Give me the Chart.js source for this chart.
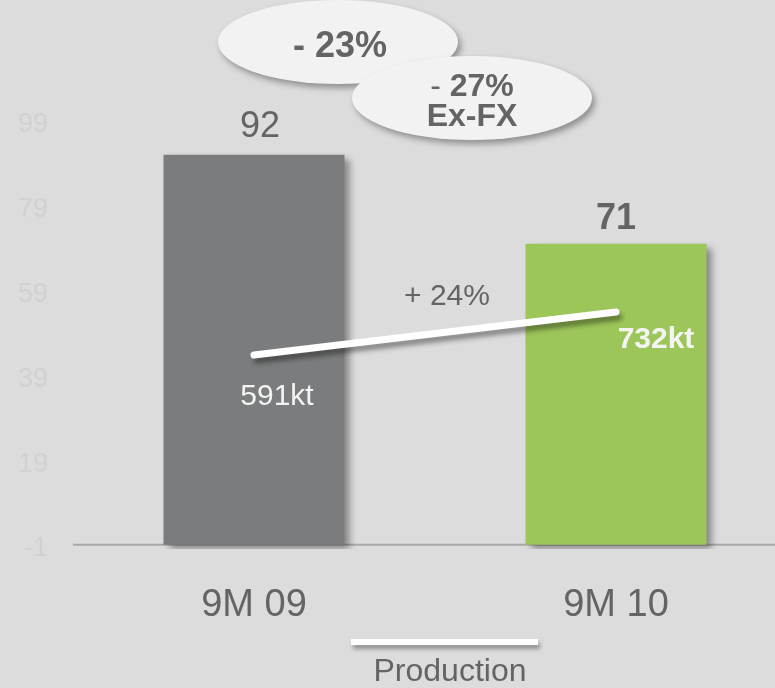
<!DOCTYPE html>
<html>
<head>
<meta charset="utf-8">
<script src="https://cdn.jsdelivr.net/npm/chart.js@4.4.1/dist/chart.umd.min.js"></script>
<style>
  html, body { margin: 0; padding: 0; overflow: hidden; background: #dcdcdc; }
  #wrap { width: 797px; height: 688px; }
</style>
</head>
<body>
<div id="wrap"><canvas id="chart" width="797" height="688"></canvas></div>
<script>
// period labels and values
const categories = ['9M 09', '9M 10'];
const barValues = [92, 71];
const productionKt = [591, 732];
const yTicks = [-1, 19, 39, 59, 79, 99];
const barColors = ['#7b7c7d', '#9dc65a'];

// callout texts
const changeTotal = '- 23%';
const changeExFx = ['27%', 'Ex-FX'];
const changeProduction = '+ 24%';
const lineLabel = 'Production';

const FONT = '"Liberation Sans", Arial, sans-serif';
const TEXT = '#646464';

function ellipse(ctx, cx, cy, rx, ry) {
  ctx.save();
  ctx.shadowColor = 'rgba(0,0,0,0.35)';
  ctx.shadowBlur = 6;
  ctx.shadowOffsetX = 3;
  ctx.shadowOffsetY = 4;
  ctx.fillStyle = '#f2f2f2';
  ctx.beginPath();
  ctx.ellipse(cx, cy, rx, ry, 0, 0, Math.PI * 2);
  ctx.fill();
  ctx.restore();
}

const decor = {
  id: 'decor',
  beforeDatasetsDraw(chart) {
    const { ctx, chartArea, scales } = chart;
    const y0 = scales.y.getPixelForValue(0);
    ctx.save();
    ctx.strokeStyle = '#a9a9a9';
    ctx.lineWidth = 2;
    ctx.beginPath();
    ctx.moveTo(chartArea.left, y0);
    ctx.lineTo(chartArea.right, y0);
    ctx.stroke();
    ctx.restore();
  },
  beforeDatasetDraw(chart, args) {
    const ctx = chart.ctx;
    ctx.save();
    if (args.meta.type === 'bar') {
      ctx.shadowColor = 'rgba(0,0,0,0.4)';
      ctx.shadowBlur = 7;
      ctx.shadowOffsetX = 5;
      ctx.shadowOffsetY = 4;
    } else {
      ctx.shadowColor = 'rgba(0,0,0,0.4)';
      ctx.shadowBlur = 5;
      ctx.shadowOffsetX = 3;
      ctx.shadowOffsetY = 5;
    }
  },
  afterDatasetDraw(chart) {
    chart.ctx.restore();
  },
  afterDraw(chart) {
    const ctx = chart.ctx;
    const bars = chart.getDatasetMeta(0).data;
    const pts = chart.getDatasetMeta(1).data;
    ctx.save();
    ctx.textAlign = 'center';
    ctx.textBaseline = 'middle';

    // values above bars
    ctx.fillStyle = TEXT;
    ctx.font = '36px ' + FONT;
    ctx.fillText(String(barValues[0]), bars[0].x + 6, bars[0].y - 28);
    ctx.font = 'bold 36px ' + FONT;
    ctx.fillText(String(barValues[1]), bars[1].x, bars[1].y - 25);

    // production labels
    ctx.fillStyle = '#f4f4f4';
    ctx.font = '30px ' + FONT;
    ctx.fillText(productionKt[0] + 'kt', pts[0].x + 23, pts[0].y + 42);
    ctx.font = 'bold 30px ' + FONT;
    ctx.fillText(productionKt[1] + 'kt', pts[1].x + 40, pts[1].y + 28);

    // growth of production
    ctx.fillStyle = TEXT;
    ctx.font = '30px ' + FONT;
    ctx.fillText(changeProduction, (pts[0].x + pts[1].x) / 2 + 12, 297);

    // callouts
    ellipse(ctx, 338, 42, 120, 42);
    ctx.fillStyle = TEXT;
    ctx.font = 'bold 36px ' + FONT;
    ctx.fillText(changeTotal, 340, 47);

    ellipse(ctx, 472, 98, 120, 42);
    ctx.fillStyle = TEXT;
    ctx.font = 'bold 32px ' + FONT;
    const w1 = ctx.measureText(changeExFx[0]).width;
    ctx.font = '32px ' + FONT;
    const w0 = ctx.measureText('- ').width;
    const x0 = 472 - (w0 + w1) / 2;
    ctx.textAlign = 'left';
    ctx.fillText('- ', x0, 87);
    ctx.font = 'bold 32px ' + FONT;
    ctx.fillText(changeExFx[0], x0 + w0, 87);
    ctx.textAlign = 'center';
    ctx.fillText(changeExFx[1], 472, 117);

    // legend
    ctx.save();
    ctx.shadowColor = 'rgba(0,0,0,0.35)';
    ctx.shadowBlur = 4;
    ctx.shadowOffsetX = 2;
    ctx.shadowOffsetY = 4;
    ctx.strokeStyle = '#ffffff';
    ctx.lineWidth = 6;
    ctx.beginPath();
    ctx.moveTo(351, 642);
    ctx.lineTo(538, 642);
    ctx.stroke();
    ctx.restore();
    ctx.fillStyle = TEXT;
    ctx.font = '32px ' + FONT;
    ctx.fillText(lineLabel, 450, 672);
    ctx.restore();
  }
};

new Chart(document.getElementById('chart').getContext('2d'), {
  data: {
    labels: categories,
    datasets: [
      {
        type: 'bar',
        data: barValues,
        backgroundColor: barColors,
        barPercentage: 0.5,
        categoryPercentage: 1,
        yAxisID: 'y',
        order: 2
      },
      {
        type: 'line',
        label: lineLabel,
        data: productionKt,
        borderColor: '#ffffff',
        borderWidth: 7,
        borderCapStyle: 'round',
        pointRadius: 0,
        yAxisID: 'y2',
        order: 1
      }
    ]
  },
  options: {
    responsive: false,
    animation: false,
    layout: { padding: { top: 36, right: 0, bottom: 0, left: 0 } },
    plugins: {
      legend: { display: false },
      tooltip: { enabled: false }
    },
    scales: {
      x: {
        grid: { display: false },
        border: { display: false },
        ticks: { color: TEXT, font: { family: FONT, size: 38 }, padding: 26 },
        afterFit(scale) { scale.height = 139; }
      },
      y: {
        min: -1,
        max: 120,
        grid: { display: false },
        border: { display: false },
        afterBuildTicks(scale) { scale.ticks = yTicks.map(v => ({ value: v })); },
        ticks: { color: '#d1d1d1', font: { family: FONT, size: 27 }, padding: 17 },
        afterFit(scale) { scale.width = 73; }
      },
      y2: {
        display: false,
        min: -45,
        max: 1637
      }
    }
  },
  plugins: [decor]
});
</script>
</body>
</html>
